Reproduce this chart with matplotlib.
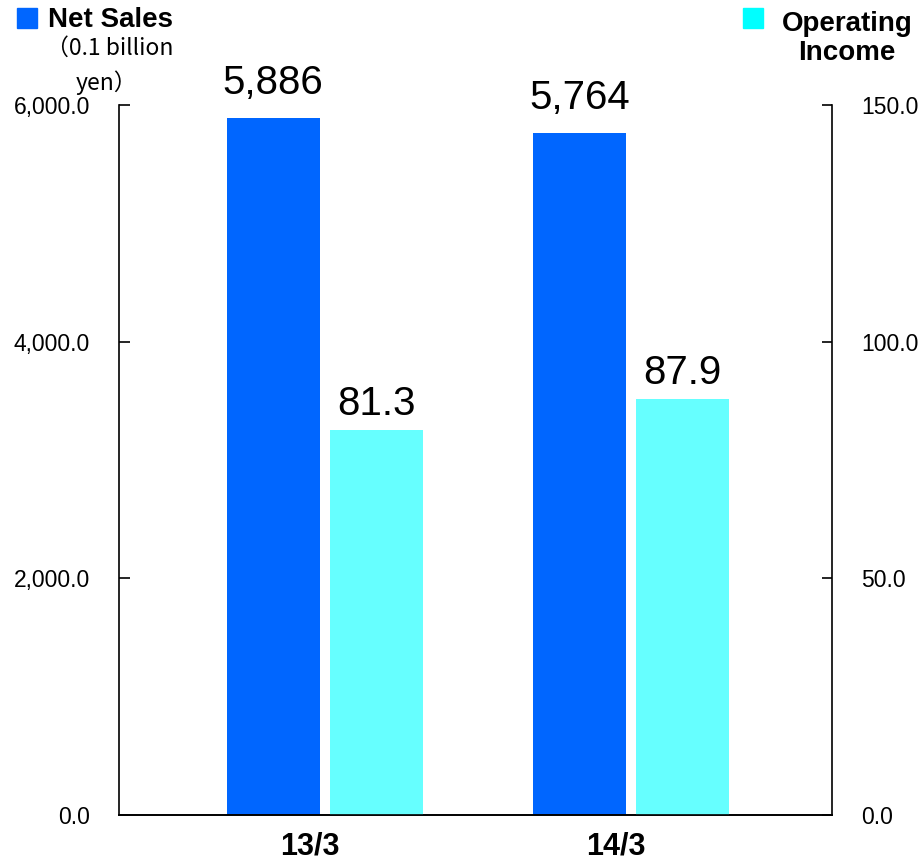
import matplotlib.pyplot as plt
import numpy as np
from matplotlib.ticker import FuncFormatter
from matplotlib.transforms import ScaledTranslation

periods = ["13/3", "14/3"]
net_sales = [5886, 5764]
operating_income = [81.3, 87.9]
sales_labels = ["5,886", "5,764"]
income_labels = ["81.3", "87.9"]

sales_color = '#0066FF'
income_color = '#66FFFF'
income_key_color = '#00FFFF'

plt.rcParams['font.family'] = ['Liberation Sans', 'DejaVu Sans']

fig = plt.figure(figsize=(9.24, 8.6), dpi=100)
ax = fig.add_axes([119 / 924, 45 / 860, 713 / 924, 710 / 860])
ax2 = ax.twinx()

x = np.arange(len(periods))
width = 0.304
shift = 0.168

ax.bar(x - shift, net_sales, width, color=sales_color, zorder=2)
ax2.bar(x + shift, operating_income, width, color=income_color, zorder=2)

ax.set_xlim(-0.672, 1.658)
ax.set_ylim(0, 6000)
ax2.set_ylim(0, 150)

ax.set_yticks([0, 2000, 4000, 6000])
ax2.set_yticks([0, 50, 100, 150])
fmt = FuncFormatter(lambda v, p: f"{v:,.1f}")
ax.yaxis.set_major_formatter(fmt)
ax2.yaxis.set_major_formatter(fmt)

for a in (ax, ax2):
    a.spines['top'].set_visible(False)
    a.spines['left'].set_linewidth(1.2)
    a.spines['right'].set_linewidth(1.2)
    a.spines['bottom'].set_linewidth(1.2)
ax.spines['right'].set_visible(False)
ax2.spines['left'].set_visible(False)

ax.tick_params(axis='y', direction='in', length=8, width=1.2, pad=21,
               labelsize=16.5)
ax2.tick_params(axis='y', direction='in', length=7, width=1.2, pad=21,
                labelsize=16.5)

ax.set_xticks(x)
ax.set_xticklabels(periods, fontsize=22, fontweight='bold')
ax.tick_params(axis='x', length=0, pad=12)
offset = ScaledTranslation(-15 / 100, 0, fig.dpi_scale_trans)
for lbl in ax.get_xticklabels():
    lbl.set_transform(lbl.get_transform() + offset)

# value labels above each bar
for xi, v, t in zip(x, net_sales, sales_labels):
    ax.annotate(t, (xi - shift, v), xytext=(0, 24), textcoords='offset pixels',
                ha='center', va='baseline', fontsize=29)
for xi, v, t in zip(x, operating_income, income_labels):
    ax2.annotate(t, (xi + shift, v), xytext=(0, 15), textcoords='offset pixels',
                 ha='center', va='baseline', fontsize=29)

# legend keys and unit note
fig.patches.append(plt.Rectangle((17 / 924, 1 - 28 / 860), 20 / 924, 20 / 860,
                                 transform=fig.transFigure, color=sales_color))
fig.text(48 / 924, 1 - 27 / 860, "Net Sales", fontsize=20, fontweight='bold',
         va='baseline', ha='left')
fig.patches.append(plt.Rectangle((743 / 924, 1 - 28 / 860), 20 / 924, 20 / 860,
                                 transform=fig.transFigure, color=income_key_color))
fig.text(847 / 924, 1 - 60 / 860, "Operating\nIncome", fontsize=20,
         fontweight='bold', va='baseline', ha='center', multialignment='center',
         linespacing=1.15)
cjk = ['Noto Sans CJK JP', 'DejaVu Sans']
fig.text(110 / 924, 1 - 55 / 860, "（0.1 billion", fontsize=16.5,
         va='baseline', ha='center', family=cjk)
fig.text(107 / 924, 1 - 90 / 860, "yen）", fontsize=16.5,
         va='baseline', ha='center', family=cjk)

fig.savefig("out.png", dpi=100)
